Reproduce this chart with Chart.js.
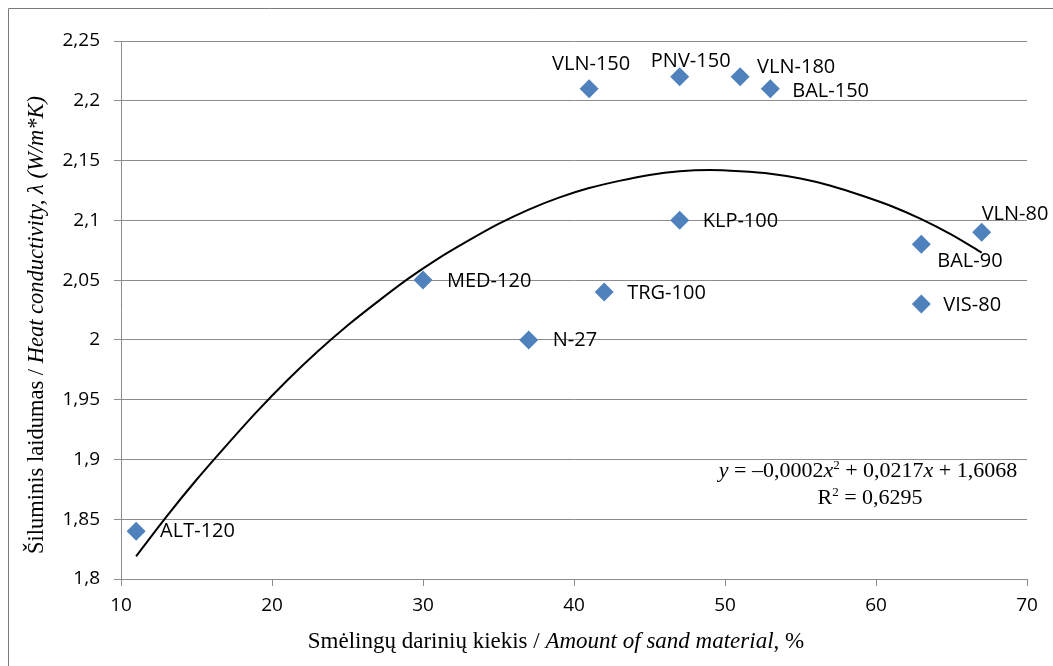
<!DOCTYPE html>
<html>
<head>
<meta charset="utf-8">
<script src="https://cdn.jsdelivr.net/npm/chart.js@4"></script>
<style>
  html, body { margin: 0; padding: 0; background: #fff; }
  #wrap { width: 1053px; height: 666px; }
</style>
</head>
<body>
<div id="wrap"><canvas id="sand_chart" width="1053" height="666"></canvas></div>
<script>
// mėginiai / samples
const sampleNames = ['ALT-120', 'MED-120', 'N-27', 'VLN-150', 'TRG-100', 'PNV-150', 'KLP-100', 'VLN-180', 'BAL-150', 'BAL-90', 'VIS-80', 'VLN-80'];
const sandAmount = [11, 30, 37, 41, 42, 47, 47, 51, 53, 63, 63, 67]; // %
const conductivity = [1.84, 2.05, 2.0, 2.21, 2.04, 2.22, 2.1, 2.22, 2.21, 2.08, 2.03, 2.09]; // W/m*K

// trend curve
const trendX = [11, 13, 15, 17, 19, 21, 23, 25, 27, 29, 31, 33, 35, 37, 39, 41, 43, 45, 47, 49, 51, 53, 55, 57, 59, 61, 63, 65, 67];
const trendY = [1.819, 1.852, 1.883, 1.912, 1.940, 1.966, 1.990, 2.012, 2.032, 2.051, 2.068, 2.083, 2.097, 2.109, 2.119, 2.127, 2.133, 2.138, 2.141, 2.142, 2.141, 2.139, 2.135, 2.129, 2.121, 2.112, 2.101, 2.088, 2.073];

const xTicks = [10, 20, 30, 40, 50, 60, 70];
const yTicks = [1.8, 1.85, 1.9, 1.95, 2.0, 2.05, 2.1, 2.15, 2.2, 2.25];

// label placement: dx, dy, align
const labelPlace = [
  [24, 0, 'left'], [24, 1, 'left'], [24, 0, 'left'], [2, -25, 'center'],
  [23, 1, 'left'], [11, -16, 'center'], [23, 1, 'left'], [17, -10, 'left'],
  [22, 2, 'left'], [16, 17, 'left'], [22, 1, 'left'], [0, -18, 'left']
];

const gridGray = '#8c8c8c';
const tickFont = { family: 'Open Sans', size: 19 };
const serif = 'Liberation Serif';

function fmt(v) {
  return String(Math.round(v * 100) / 100).replace('.', ',');
}

// teksto dalys: [tekstas, stilius]
function drawRich(ctx, parts, x, y, size, align) {
  const fontOf = p => (p[1] === 'i' ? 'italic ' : '') + (p[1] === 'sup' ? Math.round(size * 0.6) : size) + 'px "' + serif + '"';
  const widths = parts.map(p => { ctx.font = fontOf(p); return ctx.measureText(p[0]).width; });
  const total = widths.reduce((a, b) => a + b, 0);
  let cx = align === 'center' ? x - total / 2 : x;
  ctx.textAlign = 'left';
  parts.forEach((p, i) => {
    ctx.font = fontOf(p);
    ctx.fillText(p[0], cx, p[1] === 'sup' ? y - size * 0.38 : y);
    cx += widths[i];
  });
}

const decorPlugin = {
  id: 'decor',
  afterDatasetsDraw(chart) {
    const ctx = chart.ctx;
    ctx.save();
    // point labels
    const meta = chart.getDatasetMeta(1);
    ctx.fillStyle = '#000';
    ctx.font = '20px "Open Sans"';
    ctx.textBaseline = 'middle';
    meta.data.forEach((pt, i) => {
      const p = labelPlace[i];
      ctx.textAlign = p[2];
      ctx.fillText(sampleNames[i], pt.x + p[0], pt.y + p[1]);
    });

    ctx.textBaseline = 'alphabetic';
    // equation
    drawRich(ctx, [['y', 'i'], [' = \u20130,0002', ''], ['x', 'i'], ['2', 'sup'], [' + 0,0217', ''], ['x', 'i'], [' + 1,6068', '']], 868, 477, 22, 'center');
    drawRich(ctx, [['R', ''], ['2', 'sup'], [' = 0,6295', '']], 870, 504, 22, 'center');

    // axis titles
    drawRich(ctx, [['Smėlingų darinių kiekis / ', ''], ['Amount of sand material', 'i'], [', %', '']], 556, 648, 23, 'center');
    ctx.translate(43, 325);
    ctx.rotate(-Math.PI / 2);
    drawRich(ctx, [['Šiluminis laidumas / ', ''], ['Heat conductivity, λ (W/m*K)', 'i']], 0, 0, 22.5, 'center');
    ctx.restore();

    // frame edges
    ctx.save();
    ctx.strokeStyle = '#7a7a7a';
    ctx.lineWidth = 1;
    ctx.beginPath();
    ctx.moveTo(8.5, 666);
    ctx.lineTo(8.5, 8.5);
    ctx.lineTo(1053, 8.5);
    ctx.stroke();
    ctx.restore();
  }
};

const ctx = document.getElementById('sand_chart').getContext('2d');

const sandChart = new Chart(ctx, {
  type: 'scatter',
  data: {
    datasets: [{
      label: 'trend',
      type: 'line',
      data: trendX.map((x, i) => ({ x: x, y: trendY[i] })),
      borderColor: '#000',
      borderWidth: 2,
      pointRadius: 0,
      fill: false,
      tension: 0.3
    }, {
      label: 'samples',
      data: sandAmount.map((x, i) => ({ x: x, y: conductivity[i] })),
      pointStyle: 'rectRot',
      pointRadius: 9.5,
      pointHoverRadius: 9.5,
      backgroundColor: '#4F81BD',
      borderColor: '#4F81BD',
      borderWidth: 0
    }]
  },
  options: {
    responsive: false,
    devicePixelRatio: 1,
    animation: false,
    layout: { padding: { left: 0, top: 41, right: 26, bottom: 0 } },
    plugins: {
      legend: { display: false },
      tooltip: { enabled: false }
    },
    scales: {
      x: {
        type: 'linear',
        min: 10,
        max: 70,
        afterBuildTicks: s => { s.ticks = xTicks.map(v => ({ value: v })); },
        afterFit: s => { s.height = 87; },
        grid: { drawOnChartArea: false, drawTicks: true, tickLength: 7, color: gridGray },
        border: { color: gridGray, width: 1 },
        ticks: { font: tickFont, color: '#000', padding: 8, maxRotation: 0, callback: v => fmt(v) }
      },
      y: {
        type: 'linear',
        min: 1.8,
        max: 2.25,
        afterBuildTicks: s => { s.ticks = yTicks.map(v => ({ value: v })); },
        afterFit: s => { s.width = 121; },
        grid: { drawOnChartArea: true, drawTicks: true, tickLength: 7, color: gridGray },
        border: { color: gridGray, width: 1 },
        ticks: { font: tickFont, color: '#000', padding: 14, callback: v => fmt(v) }
      }
    }
  },
  plugins: [decorPlugin]
});
</script>
</body>
</html>
